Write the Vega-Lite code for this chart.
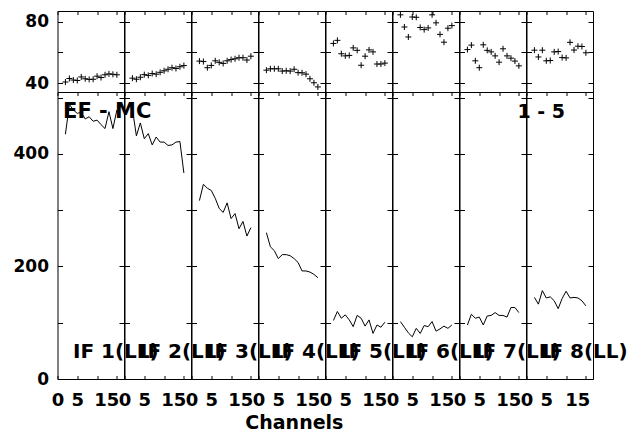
{
"$schema": "https://vega.github.io/schema/vega-lite/v6.json",
"padding": {"left": 12.5, "top": 9, "right": 5, "bottom": 5},
"background": "white",
"datasets": {
"top": [
{"p":1,"ch":2,"v":40.7},{"p":1,"ch":3,"v":43.0},{"p":1,"ch":4,"v":42.0},{"p":1,"ch":5,"v":41.7},{"p":1,"ch":6,"v":44.0},{"p":1,"ch":7,"v":42.8},{"p":1,"ch":8,"v":42.4},{"p":1,"ch":9,"v":42.5},{"p":1,"ch":10,"v":44.5},{"p":1,"ch":11,"v":43.6},{"p":1,"ch":12,"v":45.4},{"p":1,"ch":13,"v":46.0},{"p":1,"ch":14,"v":45.7},{"p":1,"ch":15,"v":45.4},
{"p":2,"ch":2,"v":43.2},{"p":2,"ch":3,"v":42.5},{"p":2,"ch":4,"v":43.8},{"p":2,"ch":5,"v":45.5},{"p":2,"ch":6,"v":45.0},{"p":2,"ch":7,"v":46.2},{"p":2,"ch":8,"v":45.8},{"p":2,"ch":9,"v":47.0},{"p":2,"ch":10,"v":48.0},{"p":2,"ch":11,"v":49.0},{"p":2,"ch":12,"v":50.0},{"p":2,"ch":13,"v":49.5},{"p":2,"ch":14,"v":50.6},{"p":2,"ch":15,"v":51.4},
{"p":3,"ch":2,"v":54.3},{"p":3,"ch":3,"v":54.0},{"p":3,"ch":4,"v":50.0},{"p":3,"ch":5,"v":51.5},{"p":3,"ch":6,"v":54.5},{"p":3,"ch":7,"v":53.5},{"p":3,"ch":8,"v":52.8},{"p":3,"ch":9,"v":54.5},{"p":3,"ch":10,"v":55.3},{"p":3,"ch":11,"v":55.8},{"p":3,"ch":12,"v":56.5},{"p":3,"ch":13,"v":56.5},{"p":3,"ch":14,"v":55.0},{"p":3,"ch":15,"v":57.5},
{"p":4,"ch":2,"v":48.4},{"p":4,"ch":3,"v":49.3},{"p":4,"ch":4,"v":49.3},{"p":4,"ch":5,"v":49.3},{"p":4,"ch":6,"v":47.8},{"p":4,"ch":7,"v":48.0},{"p":4,"ch":8,"v":47.8},{"p":4,"ch":9,"v":49.0},{"p":4,"ch":10,"v":46.8},{"p":4,"ch":11,"v":46.7},{"p":4,"ch":12,"v":45.8},{"p":4,"ch":13,"v":42.8},{"p":4,"ch":14,"v":40.2},{"p":4,"ch":15,"v":37.5},
{"p":5,"ch":2,"v":65.8},{"p":5,"ch":3,"v":67.8},{"p":5,"ch":4,"v":59.1},{"p":5,"ch":5,"v":57.7},{"p":5,"ch":6,"v":58.0},{"p":5,"ch":7,"v":62.9},{"p":5,"ch":8,"v":61.3},{"p":5,"ch":9,"v":51.6},{"p":5,"ch":10,"v":57.5},{"p":5,"ch":11,"v":61.6},{"p":5,"ch":12,"v":60.3},{"p":5,"ch":13,"v":52.4},{"p":5,"ch":14,"v":52.4},{"p":5,"ch":15,"v":53.0},
{"p":6,"ch":2,"v":84.4},{"p":6,"ch":3,"v":76.5},{"p":6,"ch":4,"v":70.0},{"p":6,"ch":5,"v":83.0},{"p":6,"ch":6,"v":82.8},{"p":6,"ch":7,"v":76.2},{"p":6,"ch":8,"v":74.8},{"p":6,"ch":9,"v":75.9},{"p":6,"ch":10,"v":84.4},{"p":6,"ch":11,"v":79.2},{"p":6,"ch":12,"v":71.7},{"p":6,"ch":13,"v":66.6},{"p":6,"ch":14,"v":75.7},{"p":6,"ch":15,"v":77.4},
{"p":7,"ch":2,"v":61.8},{"p":7,"ch":3,"v":64.7},{"p":7,"ch":4,"v":54.5},{"p":7,"ch":5,"v":50.0},{"p":7,"ch":6,"v":64.9},{"p":7,"ch":7,"v":61.3},{"p":7,"ch":8,"v":60.3},{"p":7,"ch":9,"v":57.7},{"p":7,"ch":10,"v":53.6},{"p":7,"ch":11,"v":62.3},{"p":7,"ch":12,"v":57.7},{"p":7,"ch":13,"v":56.2},{"p":7,"ch":14,"v":54.3},{"p":7,"ch":15,"v":51.2},
{"p":8,"ch":2,"v":61.4},{"p":8,"ch":3,"v":57.0},{"p":8,"ch":4,"v":61.4},{"p":8,"ch":5,"v":54.5},{"p":8,"ch":6,"v":54.7},{"p":8,"ch":7,"v":60.3},{"p":8,"ch":8,"v":60.5},{"p":8,"ch":9,"v":56.6},{"p":8,"ch":10,"v":56.4},{"p":8,"ch":11,"v":66.5},{"p":8,"ch":12,"v":61.5},{"p":8,"ch":13,"v":64.0},{"p":8,"ch":14,"v":63.8},{"p":8,"ch":15,"v":59.7}
],
"bot": [
{"p":1,"ch":2,"v":435},{"p":1,"ch":3,"v":488},{"p":1,"ch":4,"v":478},{"p":1,"ch":5,"v":472},{"p":1,"ch":6,"v":474},{"p":1,"ch":7,"v":462},{"p":1,"ch":8,"v":466},{"p":1,"ch":9,"v":458},{"p":1,"ch":10,"v":460},{"p":1,"ch":11,"v":452},{"p":1,"ch":12,"v":445},{"p":1,"ch":13,"v":475},{"p":1,"ch":14,"v":445},{"p":1,"ch":15,"v":478},
{"p":2,"ch":2,"v":480},{"p":2,"ch":3,"v":432},{"p":2,"ch":4,"v":455},{"p":2,"ch":5,"v":427},{"p":2,"ch":6,"v":436},{"p":2,"ch":7,"v":416},{"p":2,"ch":8,"v":430},{"p":2,"ch":9,"v":421},{"p":2,"ch":10,"v":421},{"p":2,"ch":11,"v":415},{"p":2,"ch":12,"v":416},{"p":2,"ch":13,"v":421},{"p":2,"ch":14,"v":422},{"p":2,"ch":15,"v":366},
{"p":3,"ch":2,"v":317},{"p":3,"ch":3,"v":346},{"p":3,"ch":4,"v":339},{"p":3,"ch":5,"v":335},{"p":3,"ch":6,"v":321},{"p":3,"ch":7,"v":303},{"p":3,"ch":8,"v":296},{"p":3,"ch":9,"v":313},{"p":3,"ch":10,"v":285},{"p":3,"ch":11,"v":294},{"p":3,"ch":12,"v":267},{"p":3,"ch":13,"v":280},{"p":3,"ch":14,"v":254},{"p":3,"ch":15,"v":269},
{"p":4,"ch":2,"v":260},{"p":4,"ch":3,"v":235},{"p":4,"ch":4,"v":228},{"p":4,"ch":5,"v":214},{"p":4,"ch":6,"v":221},{"p":4,"ch":7,"v":221},{"p":4,"ch":8,"v":219},{"p":4,"ch":9,"v":214},{"p":4,"ch":10,"v":207},{"p":4,"ch":11,"v":192},{"p":4,"ch":12,"v":192},{"p":4,"ch":13,"v":190},{"p":4,"ch":14,"v":186},{"p":4,"ch":15,"v":180},
{"p":5,"ch":2,"v":104},{"p":5,"ch":3,"v":120},{"p":5,"ch":4,"v":108},{"p":5,"ch":5,"v":114},{"p":5,"ch":6,"v":105},{"p":5,"ch":7,"v":93},{"p":5,"ch":8,"v":113},{"p":5,"ch":9,"v":108},{"p":5,"ch":10,"v":94},{"p":5,"ch":11,"v":105},{"p":5,"ch":12,"v":81},{"p":5,"ch":13,"v":96},{"p":5,"ch":14,"v":92},{"p":5,"ch":15,"v":101},
{"p":6,"ch":2,"v":102},{"p":6,"ch":3,"v":92},{"p":6,"ch":4,"v":82},{"p":6,"ch":5,"v":75},{"p":6,"ch":6,"v":90},{"p":6,"ch":7,"v":81},{"p":6,"ch":8,"v":95},{"p":6,"ch":9,"v":93},{"p":6,"ch":10,"v":102},{"p":6,"ch":11,"v":85},{"p":6,"ch":12,"v":89},{"p":6,"ch":13,"v":94},{"p":6,"ch":14,"v":90},{"p":6,"ch":15,"v":96},
{"p":7,"ch":2,"v":96},{"p":7,"ch":3,"v":115},{"p":7,"ch":4,"v":108},{"p":7,"ch":5,"v":110},{"p":7,"ch":6,"v":96},{"p":7,"ch":7,"v":112},{"p":7,"ch":8,"v":113},{"p":7,"ch":9,"v":118},{"p":7,"ch":10,"v":113},{"p":7,"ch":11,"v":113},{"p":7,"ch":12,"v":110},{"p":7,"ch":13,"v":127},{"p":7,"ch":14,"v":127},{"p":7,"ch":15,"v":118},
{"p":8,"ch":2,"v":145},{"p":8,"ch":3,"v":133},{"p":8,"ch":4,"v":157},{"p":8,"ch":5,"v":144},{"p":8,"ch":6,"v":146},{"p":8,"ch":7,"v":139},{"p":8,"ch":8,"v":125},{"p":8,"ch":9,"v":143},{"p":8,"ch":10,"v":156},{"p":8,"ch":11,"v":144},{"p":8,"ch":12,"v":145},{"p":8,"ch":13,"v":144},{"p":8,"ch":14,"v":139},{"p":8,"ch":15,"v":130}
]
},
"concat": [
{"width":66.5,"height":81,"data":{"name":"top"},"transform":[{"filter":"datum.p == 1"}],"layer":[{"mark":{"type":"point","shape":"M-1,0L1,0M0,-1L0,1","size":36,"filled":false,"stroke":"black","strokeWidth":1,"opacity":1},"encoding":{"x":{"field":"ch","type":"quantitative","title":null,"scale":{"domain":[0,16.8],"nice":false},"axis":null},"y":{"field":"v","type":"quantitative","title":null,"scale":{"domain":[34.2,86.9],"nice":false,"zero":false},"axis":{"orient":"left","values":[40,60,80],"labelExpr":"datum.value == 60 ? '' : datum.label","labelFontSize":{"condition":{"test":"datum.value == 60","value":0},"value":17}}}}},{"mark":{"type":"point","opacity":0},"encoding":{"x":{"field":"ch","type":"quantitative","title":null,"axis":{"orient":"top","values":[0,5,10,15],"labels":false,"tickSize":-3.5}},"y":{"field":"v","type":"quantitative","title":null,"axis":{"orient":"right","values":[40,60,80],"labels":false}}}}],"resolve":{"axis":{"x":"independent","y":"independent"}}},
{"width":66.5,"height":81,"data":{"name":"top"},"transform":[{"filter":"datum.p == 2"}],"layer":[{"mark":{"type":"point","shape":"M-1,0L1,0M0,-1L0,1","size":36,"filled":false,"stroke":"black","strokeWidth":1,"opacity":1},"encoding":{"x":{"field":"ch","type":"quantitative","title":null,"scale":{"domain":[0,16.8],"nice":false},"axis":null},"y":{"field":"v","type":"quantitative","title":null,"scale":{"domain":[34.2,86.9],"nice":false,"zero":false},"axis":{"orient":"left","values":[40,60,80],"labels":false}}}},{"mark":{"type":"point","opacity":0},"encoding":{"x":{"field":"ch","type":"quantitative","title":null,"axis":{"orient":"top","values":[0,5,10,15],"labels":false,"tickSize":-3.5}},"y":{"field":"v","type":"quantitative","title":null,"axis":{"orient":"right","values":[40,60,80],"labels":false}}}}],"resolve":{"axis":{"x":"independent","y":"independent"}}},
{"width":66.5,"height":81,"data":{"name":"top"},"transform":[{"filter":"datum.p == 3"}],"layer":[{"mark":{"type":"point","shape":"M-1,0L1,0M0,-1L0,1","size":36,"filled":false,"stroke":"black","strokeWidth":1,"opacity":1},"encoding":{"x":{"field":"ch","type":"quantitative","title":null,"scale":{"domain":[0,16.8],"nice":false},"axis":null},"y":{"field":"v","type":"quantitative","title":null,"scale":{"domain":[34.2,86.9],"nice":false,"zero":false},"axis":{"orient":"left","values":[40,60,80],"labels":false}}}},{"mark":{"type":"point","opacity":0},"encoding":{"x":{"field":"ch","type":"quantitative","title":null,"axis":{"orient":"top","values":[0,5,10,15],"labels":false,"tickSize":-3.5}},"y":{"field":"v","type":"quantitative","title":null,"axis":{"orient":"right","values":[40,60,80],"labels":false}}}}],"resolve":{"axis":{"x":"independent","y":"independent"}}},
{"width":66.5,"height":81,"data":{"name":"top"},"transform":[{"filter":"datum.p == 4"}],"layer":[{"mark":{"type":"point","shape":"M-1,0L1,0M0,-1L0,1","size":36,"filled":false,"stroke":"black","strokeWidth":1,"opacity":1},"encoding":{"x":{"field":"ch","type":"quantitative","title":null,"scale":{"domain":[0,16.8],"nice":false},"axis":null},"y":{"field":"v","type":"quantitative","title":null,"scale":{"domain":[34.2,86.9],"nice":false,"zero":false},"axis":{"orient":"left","values":[40,60,80],"labels":false}}}},{"mark":{"type":"point","opacity":0},"encoding":{"x":{"field":"ch","type":"quantitative","title":null,"axis":{"orient":"top","values":[0,5,10,15],"labels":false,"tickSize":-3.5}},"y":{"field":"v","type":"quantitative","title":null,"axis":{"orient":"right","values":[40,60,80],"labels":false}}}}],"resolve":{"axis":{"x":"independent","y":"independent"}}},
{"width":66.5,"height":81,"data":{"name":"top"},"transform":[{"filter":"datum.p == 5"}],"layer":[{"mark":{"type":"point","shape":"M-1,0L1,0M0,-1L0,1","size":36,"filled":false,"stroke":"black","strokeWidth":1,"opacity":1},"encoding":{"x":{"field":"ch","type":"quantitative","title":null,"scale":{"domain":[0,16.8],"nice":false},"axis":null},"y":{"field":"v","type":"quantitative","title":null,"scale":{"domain":[34.2,86.9],"nice":false,"zero":false},"axis":{"orient":"left","values":[40,60,80],"labels":false}}}},{"mark":{"type":"point","opacity":0},"encoding":{"x":{"field":"ch","type":"quantitative","title":null,"axis":{"orient":"top","values":[0,5,10,15],"labels":false,"tickSize":-3.5}},"y":{"field":"v","type":"quantitative","title":null,"axis":{"orient":"right","values":[40,60,80],"labels":false}}}}],"resolve":{"axis":{"x":"independent","y":"independent"}}},
{"width":66.5,"height":81,"data":{"name":"top"},"transform":[{"filter":"datum.p == 6"}],"layer":[{"mark":{"type":"point","shape":"M-1,0L1,0M0,-1L0,1","size":36,"filled":false,"stroke":"black","strokeWidth":1,"opacity":1},"encoding":{"x":{"field":"ch","type":"quantitative","title":null,"scale":{"domain":[0,16.8],"nice":false},"axis":null},"y":{"field":"v","type":"quantitative","title":null,"scale":{"domain":[34.2,86.9],"nice":false,"zero":false},"axis":{"orient":"left","values":[40,60,80],"labels":false}}}},{"mark":{"type":"point","opacity":0},"encoding":{"x":{"field":"ch","type":"quantitative","title":null,"axis":{"orient":"top","values":[0,5,10,15],"labels":false,"tickSize":-3.5}},"y":{"field":"v","type":"quantitative","title":null,"axis":{"orient":"right","values":[40,60,80],"labels":false}}}}],"resolve":{"axis":{"x":"independent","y":"independent"}}},
{"width":66.5,"height":81,"data":{"name":"top"},"transform":[{"filter":"datum.p == 7"}],"layer":[{"mark":{"type":"point","shape":"M-1,0L1,0M0,-1L0,1","size":36,"filled":false,"stroke":"black","strokeWidth":1,"opacity":1},"encoding":{"x":{"field":"ch","type":"quantitative","title":null,"scale":{"domain":[0,16.8],"nice":false},"axis":null},"y":{"field":"v","type":"quantitative","title":null,"scale":{"domain":[34.2,86.9],"nice":false,"zero":false},"axis":{"orient":"left","values":[40,60,80],"labels":false}}}},{"mark":{"type":"point","opacity":0},"encoding":{"x":{"field":"ch","type":"quantitative","title":null,"axis":{"orient":"top","values":[0,5,10,15],"labels":false,"tickSize":-3.5}},"y":{"field":"v","type":"quantitative","title":null,"axis":{"orient":"right","values":[40,60,80],"labels":false}}}}],"resolve":{"axis":{"x":"independent","y":"independent"}}},
{"width":66.5,"height":81,"data":{"name":"top"},"transform":[{"filter":"datum.p == 8"}],"layer":[{"mark":{"type":"point","shape":"M-1,0L1,0M0,-1L0,1","size":36,"filled":false,"stroke":"black","strokeWidth":1,"opacity":1},"encoding":{"x":{"field":"ch","type":"quantitative","title":null,"scale":{"domain":[0,16.8],"nice":false},"axis":null},"y":{"field":"v","type":"quantitative","title":null,"scale":{"domain":[34.2,86.9],"nice":false,"zero":false},"axis":{"orient":"left","values":[40,60,80],"labels":false}}}},{"mark":{"type":"point","opacity":0},"encoding":{"x":{"field":"ch","type":"quantitative","title":null,"axis":{"orient":"top","values":[0,5,10,15],"labels":false,"tickSize":-3.5}},"y":{"field":"v","type":"quantitative","title":null,"axis":{"orient":"right","values":[40,60,80],"labels":false}}}}],"resolve":{"axis":{"x":"independent","y":"independent"}}},
{"width":66.5,"height":287,"data":{"name":"bot"},"transform":[{"filter":"datum.p == 1"}],"layer":[{"mark":{"type":"line","color":"black","strokeWidth":1},"encoding":{"x":{"field":"ch","type":"quantitative","title":null,"scale":{"domain":[0,16.8],"nice":false},"axis":{"orient":"bottom","values":[0,5,10,15],"tickSize":-3.5,"labelPadding":16,"labelFontSize":18,"labelAlign":{"condition":{"test":"datum.value == 15","value":"right"},"value":"center"},"labelOffset":{"condition":{"test":"datum.value == 15","value":2},"value":0},"labelExpr":"datum.value == 10 ? '' : datum.label"}},"y":{"field":"v","type":"quantitative","title":null,"scale":{"domain":[0,510],"nice":false},"axis":{"orient":"left","values":[0,100,200,300,400,500],"labelExpr":"datum.value % 200 == 0 ? datum.label : ''","labelFontSize":{"condition":{"test":"datum.value % 200 != 0","value":0},"value":17}}}}},{"mark":{"type":"line","opacity":0},"encoding":{"x":{"field":"ch","type":"quantitative","title":null,"axis":{"orient":"top","values":[0,5,10,15],"labels":false,"tickSize":-3.5}},"y":{"field":"v","type":"quantitative","title":null,"axis":{"orient":"right","values":[0,100,200,300,400,500],"labels":false}}}},{"data":{"values":[{"p":1,"label":"IF 1(LL)"}]},"mark":{"type":"text","align":"left","baseline":"alphabetic","fontWeight":"bold","fontSize":20,"color":"black"},"encoding":{"text":{"field":"label"},"x":{"datum":3.9,"type":"quantitative","axis":null},"y":{"datum":37,"type":"quantitative","axis":null}}},{"data":{"values":[{"p":1,"label":"EF - MC"}]},"mark":{"type":"text","align":"left","baseline":"alphabetic","fontWeight":"bold","fontSize":21,"color":"black"},"encoding":{"text":{"field":"label"},"x":{"datum":1.4,"type":"quantitative","axis":null},"y":{"datum":463,"type":"quantitative","axis":null}}}],"resolve":{"axis":{"x":"independent","y":"independent"}}},
{"width":66.5,"height":287,"data":{"name":"bot"},"transform":[{"filter":"datum.p == 2"}],"layer":[{"mark":{"type":"line","color":"black","strokeWidth":1},"encoding":{"x":{"field":"ch","type":"quantitative","title":null,"scale":{"domain":[0,16.8],"nice":false},"axis":{"orient":"bottom","values":[0,5,10,15],"tickSize":-3.5,"labelPadding":16,"labelFontSize":18,"labelAlign":{"condition":{"test":"datum.value == 15","value":"right"},"value":"center"},"labelOffset":{"condition":{"test":"datum.value == 15","value":2},"value":0},"labelExpr":"datum.value == 10 ? '' : datum.label"}},"y":{"field":"v","type":"quantitative","title":null,"scale":{"domain":[0,510],"nice":false},"axis":{"orient":"left","values":[0,100,200,300,400,500],"labels":false}}}},{"mark":{"type":"line","opacity":0},"encoding":{"x":{"field":"ch","type":"quantitative","title":null,"axis":{"orient":"top","values":[0,5,10,15],"labels":false,"tickSize":-3.5}},"y":{"field":"v","type":"quantitative","title":null,"axis":{"orient":"right","values":[0,100,200,300,400,500],"labels":false}}}},{"data":{"values":[{"p":2,"label":"IF 2(LL)"}]},"mark":{"type":"text","align":"left","baseline":"alphabetic","fontWeight":"bold","fontSize":20,"color":"black"},"encoding":{"text":{"field":"label"},"x":{"datum":3.9,"type":"quantitative","axis":null},"y":{"datum":37,"type":"quantitative","axis":null}}}],"resolve":{"axis":{"x":"independent","y":"independent"}}},
{"width":66.5,"height":287,"data":{"name":"bot"},"transform":[{"filter":"datum.p == 3"}],"layer":[{"mark":{"type":"line","color":"black","strokeWidth":1},"encoding":{"x":{"field":"ch","type":"quantitative","title":null,"scale":{"domain":[0,16.8],"nice":false},"axis":{"orient":"bottom","values":[0,5,10,15],"tickSize":-3.5,"labelPadding":16,"labelFontSize":18,"labelAlign":{"condition":{"test":"datum.value == 15","value":"right"},"value":"center"},"labelOffset":{"condition":{"test":"datum.value == 15","value":2},"value":0},"labelExpr":"datum.value == 10 ? '' : datum.label"}},"y":{"field":"v","type":"quantitative","title":null,"scale":{"domain":[0,510],"nice":false},"axis":{"orient":"left","values":[0,100,200,300,400,500],"labels":false}}}},{"mark":{"type":"line","opacity":0},"encoding":{"x":{"field":"ch","type":"quantitative","title":null,"axis":{"orient":"top","values":[0,5,10,15],"labels":false,"tickSize":-3.5}},"y":{"field":"v","type":"quantitative","title":null,"axis":{"orient":"right","values":[0,100,200,300,400,500],"labels":false}}}},{"data":{"values":[{"p":3,"label":"IF 3(LL)"}]},"mark":{"type":"text","align":"left","baseline":"alphabetic","fontWeight":"bold","fontSize":20,"color":"black"},"encoding":{"text":{"field":"label"},"x":{"datum":3.9,"type":"quantitative","axis":null},"y":{"datum":37,"type":"quantitative","axis":null}}}],"resolve":{"axis":{"x":"independent","y":"independent"}}},
{"width":66.5,"height":287,"data":{"name":"bot"},"transform":[{"filter":"datum.p == 4"}],"layer":[{"mark":{"type":"line","color":"black","strokeWidth":1},"encoding":{"x":{"field":"ch","type":"quantitative","title":null,"scale":{"domain":[0,16.8],"nice":false},"axis":{"orient":"bottom","values":[0,5,10,15],"tickSize":-3.5,"labelPadding":16,"labelFontSize":18,"labelAlign":{"condition":{"test":"datum.value == 15","value":"right"},"value":"center"},"labelOffset":{"condition":{"test":"datum.value == 15","value":2},"value":0},"labelExpr":"datum.value == 10 ? '' : datum.label"}},"y":{"field":"v","type":"quantitative","title":null,"scale":{"domain":[0,510],"nice":false},"axis":{"orient":"left","values":[0,100,200,300,400,500],"labels":false}}}},{"mark":{"type":"line","opacity":0},"encoding":{"x":{"field":"ch","type":"quantitative","title":null,"axis":{"orient":"top","values":[0,5,10,15],"labels":false,"tickSize":-3.5}},"y":{"field":"v","type":"quantitative","title":null,"axis":{"orient":"right","values":[0,100,200,300,400,500],"labels":false}}}},{"data":{"values":[{"p":4,"label":"IF 4(LL)"}]},"mark":{"type":"text","align":"left","baseline":"alphabetic","fontWeight":"bold","fontSize":20,"color":"black"},"encoding":{"text":{"field":"label"},"x":{"datum":3.9,"type":"quantitative","axis":null},"y":{"datum":37,"type":"quantitative","axis":null}}}],"resolve":{"axis":{"x":"independent","y":"independent"}}},
{"width":66.5,"height":287,"data":{"name":"bot"},"transform":[{"filter":"datum.p == 5"}],"layer":[{"mark":{"type":"line","color":"black","strokeWidth":1},"encoding":{"x":{"field":"ch","type":"quantitative","title":null,"scale":{"domain":[0,16.8],"nice":false},"axis":{"orient":"bottom","values":[0,5,10,15],"tickSize":-3.5,"labelPadding":16,"labelFontSize":18,"labelAlign":{"condition":{"test":"datum.value == 15","value":"right"},"value":"center"},"labelOffset":{"condition":{"test":"datum.value == 15","value":2},"value":0},"labelExpr":"datum.value == 10 ? '' : datum.label"}},"y":{"field":"v","type":"quantitative","title":null,"scale":{"domain":[0,510],"nice":false},"axis":{"orient":"left","values":[0,100,200,300,400,500],"labels":false}}}},{"mark":{"type":"line","opacity":0},"encoding":{"x":{"field":"ch","type":"quantitative","title":null,"axis":{"orient":"top","values":[0,5,10,15],"labels":false,"tickSize":-3.5}},"y":{"field":"v","type":"quantitative","title":null,"axis":{"orient":"right","values":[0,100,200,300,400,500],"labels":false}}}},{"data":{"values":[{"p":5,"label":"IF 5(LL)"}]},"mark":{"type":"text","align":"left","baseline":"alphabetic","fontWeight":"bold","fontSize":20,"color":"black"},"encoding":{"text":{"field":"label"},"x":{"datum":3.9,"type":"quantitative","axis":null},"y":{"datum":37,"type":"quantitative","axis":null}}}],"resolve":{"axis":{"x":"independent","y":"independent"}}},
{"width":66.5,"height":287,"data":{"name":"bot"},"transform":[{"filter":"datum.p == 6"}],"layer":[{"mark":{"type":"line","color":"black","strokeWidth":1},"encoding":{"x":{"field":"ch","type":"quantitative","title":null,"scale":{"domain":[0,16.8],"nice":false},"axis":{"orient":"bottom","values":[0,5,10,15],"tickSize":-3.5,"labelPadding":16,"labelFontSize":18,"labelAlign":{"condition":{"test":"datum.value == 15","value":"right"},"value":"center"},"labelOffset":{"condition":{"test":"datum.value == 15","value":2},"value":0},"labelExpr":"datum.value == 10 ? '' : datum.label"}},"y":{"field":"v","type":"quantitative","title":null,"scale":{"domain":[0,510],"nice":false},"axis":{"orient":"left","values":[0,100,200,300,400,500],"labels":false}}}},{"mark":{"type":"line","opacity":0},"encoding":{"x":{"field":"ch","type":"quantitative","title":null,"axis":{"orient":"top","values":[0,5,10,15],"labels":false,"tickSize":-3.5}},"y":{"field":"v","type":"quantitative","title":null,"axis":{"orient":"right","values":[0,100,200,300,400,500],"labels":false}}}},{"data":{"values":[{"p":6,"label":"IF 6(LL)"}]},"mark":{"type":"text","align":"left","baseline":"alphabetic","fontWeight":"bold","fontSize":20,"color":"black"},"encoding":{"text":{"field":"label"},"x":{"datum":3.9,"type":"quantitative","axis":null},"y":{"datum":37,"type":"quantitative","axis":null}}}],"resolve":{"axis":{"x":"independent","y":"independent"}}},
{"width":66.5,"height":287,"data":{"name":"bot"},"transform":[{"filter":"datum.p == 7"}],"layer":[{"mark":{"type":"line","color":"black","strokeWidth":1},"encoding":{"x":{"field":"ch","type":"quantitative","title":null,"scale":{"domain":[0,16.8],"nice":false},"axis":{"orient":"bottom","values":[0,5,10,15],"tickSize":-3.5,"labelPadding":16,"labelFontSize":18,"labelAlign":{"condition":{"test":"datum.value == 15","value":"right"},"value":"center"},"labelOffset":{"condition":{"test":"datum.value == 15","value":2},"value":0},"labelExpr":"datum.value == 10 ? '' : datum.label"}},"y":{"field":"v","type":"quantitative","title":null,"scale":{"domain":[0,510],"nice":false},"axis":{"orient":"left","values":[0,100,200,300,400,500],"labels":false}}}},{"mark":{"type":"line","opacity":0},"encoding":{"x":{"field":"ch","type":"quantitative","title":null,"axis":{"orient":"top","values":[0,5,10,15],"labels":false,"tickSize":-3.5}},"y":{"field":"v","type":"quantitative","title":null,"axis":{"orient":"right","values":[0,100,200,300,400,500],"labels":false}}}},{"data":{"values":[{"p":7,"label":"IF 7(LL)"}]},"mark":{"type":"text","align":"left","baseline":"alphabetic","fontWeight":"bold","fontSize":20,"color":"black"},"encoding":{"text":{"field":"label"},"x":{"datum":3.9,"type":"quantitative","axis":null},"y":{"datum":37,"type":"quantitative","axis":null}}}],"resolve":{"axis":{"x":"independent","y":"independent"}}},
{"width":66.5,"height":287,"data":{"name":"bot"},"transform":[{"filter":"datum.p == 8"}],"layer":[{"mark":{"type":"line","color":"black","strokeWidth":1},"encoding":{"x":{"field":"ch","type":"quantitative","title":null,"scale":{"domain":[0,16.8],"nice":false},"axis":{"orient":"bottom","values":[0,5,10,15],"tickSize":-3.5,"labelPadding":16,"labelFontSize":18,"labelAlign":{"condition":{"test":"datum.value == 15","value":"right"},"value":"center"},"labelOffset":{"condition":{"test":"datum.value == 15","value":4},"value":0},"labelExpr":"datum.value == 10 ? '' : datum.label"}},"y":{"field":"v","type":"quantitative","title":null,"scale":{"domain":[0,510],"nice":false},"axis":{"orient":"left","values":[0,100,200,300,400,500],"labels":false}}}},{"mark":{"type":"line","opacity":0},"encoding":{"x":{"field":"ch","type":"quantitative","title":null,"axis":{"orient":"top","values":[0,5,10,15],"labels":false,"tickSize":-3.5}},"y":{"field":"v","type":"quantitative","title":null,"axis":{"orient":"right","values":[0,100,200,300,400,500],"labels":false}}}},{"data":{"values":[{"p":8,"label":"IF 8(LL)"}]},"mark":{"type":"text","align":"left","baseline":"alphabetic","fontWeight":"bold","fontSize":20,"color":"black"},"encoding":{"text":{"field":"label"},"x":{"datum":3.9,"type":"quantitative","axis":null},"y":{"datum":37,"type":"quantitative","axis":null}}},{"data":{"values":[{"p":8,"label":"1 - 5"}]},"mark":{"type":"text","align":"right","baseline":"alphabetic","fontWeight":"bold","fontSize":19,"color":"black"},"encoding":{"text":{"field":"label"},"x":{"datum":9.75,"type":"quantitative","axis":null},"y":{"datum":463,"type":"quantitative","axis":null}}}],"resolve":{"axis":{"x":"independent","y":"independent"}}}
],
"columns": 8,
"spacing": 0,
"bounds": "flush",
"title": {"text": "Channels", "orient": "bottom", "anchor": "middle", "font": "DejaVu Sans", "fontWeight": "bold", "fontSize": 19, "color": "black", "offset": 4, "dx": -26},
"config": {
"font": "DejaVu Sans",
"view": {"stroke": "black", "strokeWidth": 1},
"axis": {"domain": false, "grid": false, "ticks": true, "tickColor": "black", "tickWidth": 1, "tickSize": -5, "labelFont": "DejaVu Sans", "labelFontWeight": "bold", "labelFontSize": 17, "labelColor": "black", "labelPadding": 14, "labelFlush": false, "labelOverlap": false}
}
}
